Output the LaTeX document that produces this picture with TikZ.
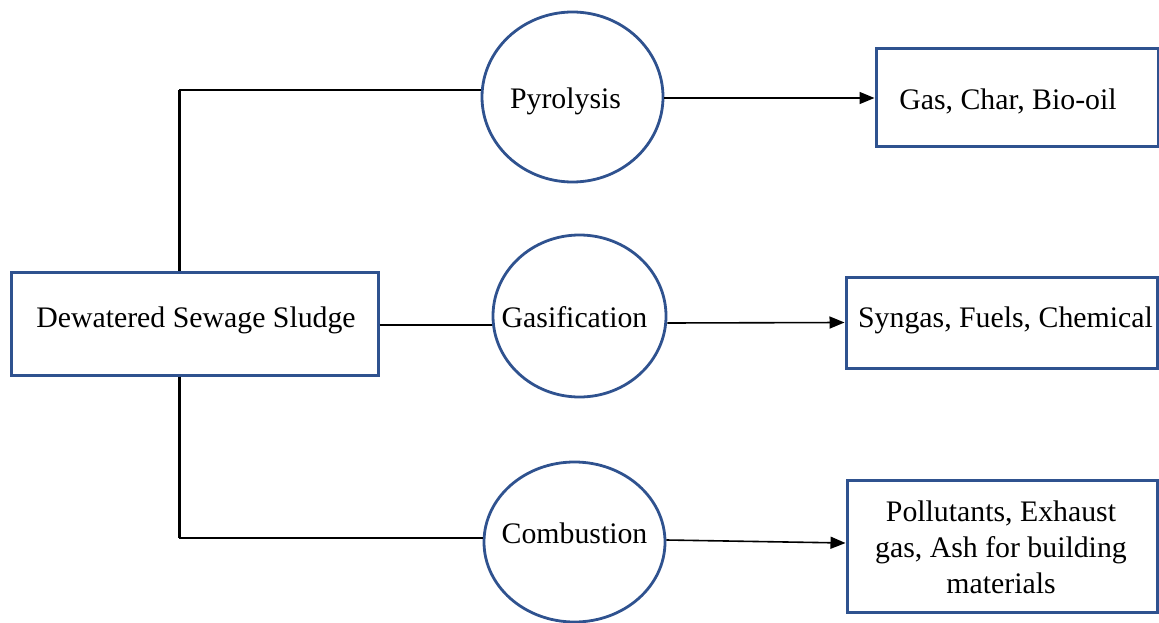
\documentclass[tikz,border=0pt]{standalone}
\usepackage{fontspec}
\setmainfont{Liberation Serif}
\usetikzlibrary{shapes.geometric,arrows.meta}
\definecolor{shapeblue}{RGB}{47,82,143}
\tikzset{
  box/.style={draw=shapeblue, line width=3pt, rectangle, inner sep=0pt, align=center},
  proc/.style={draw=shapeblue, line width=2.8pt, ellipse, inner sep=0pt},
  link/.style={draw=black, line width=1.6pt},
  trunk/.style={draw=black, line width=3pt},
  arrow/.style={draw=black, line width=1.6pt, -{Triangle[length=15pt,width=12pt]}},
  every node/.style={font=\fontsize{29.8}{36}\selectfont\rmfamily}
}
\begin{document}
\begin{tikzpicture}[x=1pt,y=-1pt]
\useasboundingbox (0,0) rectangle (1159,623);
% source
\node[box, minimum width=367pt, minimum height=103pt] (src) at (194.5,323.5) {};
\node at (196,320) (srctext) {Dewatered Sewage Sludge};
% processes
\node[proc, minimum width=181pt, minimum height=170pt, label={[xshift=-7pt,yshift=-4pt]center:Pyrolysis}] (pyro) at (572.5,97) {};
\node[proc, minimum width=173pt, minimum height=162pt, label={[xshift=-5pt,yshift=-1pt]center:Gasification}] (gas) at (579.5,316) {};
\node[proc, minimum width=181pt, minimum height=160pt, label={[xshift=0pt,yshift=9pt]center:Combustion}] (comb) at (574.5,542) {};
% outputs
\node[box, minimum width=282pt, minimum height=98pt] (out1) at (1017,98) {};
\node at (1008,101) (out1text) {Gas, Char, Bio-oil};
\node[box, minimum width=311pt, minimum height=91pt] (out2) at (1001.5,322.5) {};
\node at (1005.5,320) (out2text) {Syngas, Fuels, Chemical};
\node[box, minimum width=310pt, minimum height=132pt] (out3) at (1002,546) {};
\node[align=center] at (1001,547) (out3text) {Pollutants, Exhaust\\gas, Ash for building\\materials};
% trunk connectors
\coordinate (t1) at (179,90);
\coordinate (t3) at (179,538);
\draw[trunk] (src.north -| t1) -- (t1);
\draw[link] (t1) -- (t1 -| pyro.west);
\draw[trunk] (src.south -| t3) -- (t3);
\draw[link] (t3) -- (t3 -| comb.west);
\draw[link] (src.east |- 0,325) -- (gas.west |- 0,325);
% arrows
\draw[arrow] (pyro.east |- out1.west) -- (out1.west);
\draw[arrow] (gas.east |- 0,323) -- (out2.west);
\draw[arrow] (comb.east |- 0,540) -- (out3.west |- 0,543);
\end{tikzpicture}
\end{document}
